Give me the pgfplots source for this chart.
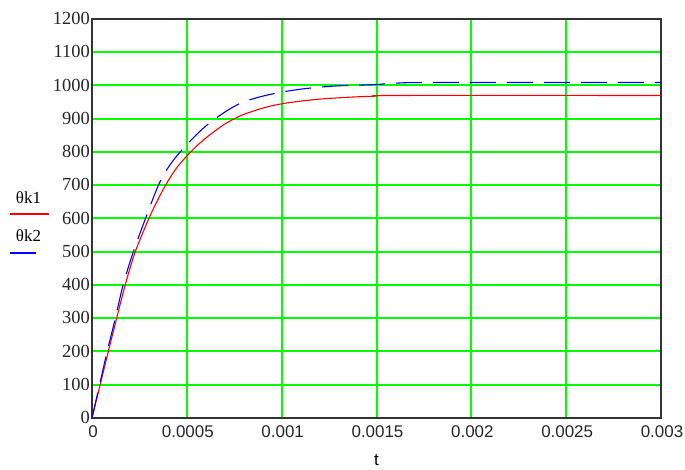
\documentclass[border=0pt]{standalone}
\usepackage{fontspec}
\setmainfont{Liberation Serif}
\setsansfont{Liberation Sans}
\usepackage{pgfplots}
\pgfplotsset{compat=1.18}
\definecolor{mcgreen}{RGB}{0,255,0}
\definecolor{mcred}{RGB}{255,0,0}
\definecolor{mcblue}{RGB}{0,0,255}
\begin{document}
\begin{tikzpicture}
\begin{axis}[
  scale only axis,
  width=569bp, height=399bp,
  xmin=0, xmax=0.003, ymin=0, ymax=1200,
  xtick={0,0.0005,0.001,0.0015,0.002,0.0025,0.003},
  xticklabels={0,0.0005,0.001,0.0015,0.002,0.0025,0.003},
  ytick={0,100,...,1200},
  yticklabels={0,100,200,300,400,500,600,700,800,900,1000,1100,1200},
  scaled x ticks=false,
  major tick length=0pt,
  grid=major,
  major grid style={color=mcgreen, line width=2bp},
  axis line style={draw=black!80, line width=1.8bp},
  xticklabel style={font=\sffamily\fontsize{17}{17}\selectfont, anchor=north, inner sep=0pt, yshift=-7bp, xshift=1bp, text=black!85},
  yticklabel style={font=\fontsize{18.5}{18.5}\selectfont, anchor=east, inner sep=0pt, xshift=-2bp, yshift=0.5bp, text=black!85},
  xlabel={t},
  xlabel style={font=\sffamily\fontsize{17}{17}\selectfont, at={(axis description cs:0.5,0)}, anchor=north, inner sep=0pt, yshift=-36bp},
  clip=true,
]
\addplot[color=mcred, line width=1.1bp, smooth, tension=0.5] coordinates {
(0,0) (0.000043,100) (0.000086,200) (0.00013,300) (0.000175,400)
(0.000228,500) (0.0003,600) (0.00035,660) (0.0004,712) (0.00045,755)
(0.0005,788) (0.00055,817) (0.0006,842) (0.00065,864) (0.0007,884)
(0.00075,900) (0.0008,913) (0.0009,932) (0.001,945) (0.0011,953)
(0.0012,959) (0.0013,963) (0.0014,966) (0.0015,968) (0.0016,970)
(0.003,970)
};
\addplot[color=mcblue, line width=1.1bp, dash pattern=on 26bp off 11bp, smooth, tension=0.5] coordinates {
(0,0) (0.00004,100) (0.00008,200) (0.000123,300) (0.000164,400)
(0.000218,500) (0.000282,600) (0.00035,700) (0.0004,752) (0.00045,790)
(0.0005,822) (0.00055,852) (0.0006,878) (0.00065,900) (0.0007,920)
(0.00075,937) (0.0008,951) (0.0009,968) (0.001,980) (0.0011,989)
(0.0012,995) (0.0013,999) (0.0014,1001) (0.0015,1003) (0.0016,1007)
(0.0018,1009) (0.003,1009)
};
\end{axis}
% trace labels (Mathcad style)
\node[font=\fontsize{17}{17}\selectfont, inner sep=0pt] at (-63.5bp,220bp) {θk1};
\draw[color=mcred, line width=1.1bp] (-82bp,204bp) -- (-43bp,204bp);
\node[font=\fontsize{17}{17}\selectfont, inner sep=0pt] at (-63.5bp,182bp) {θk2};
\draw[color=mcblue, line width=1.1bp] (-82bp,165bp) -- (-56bp,165bp);
\path (-92bp,-52bp) rectangle (593bp,418bp);
\end{tikzpicture}
\end{document}
